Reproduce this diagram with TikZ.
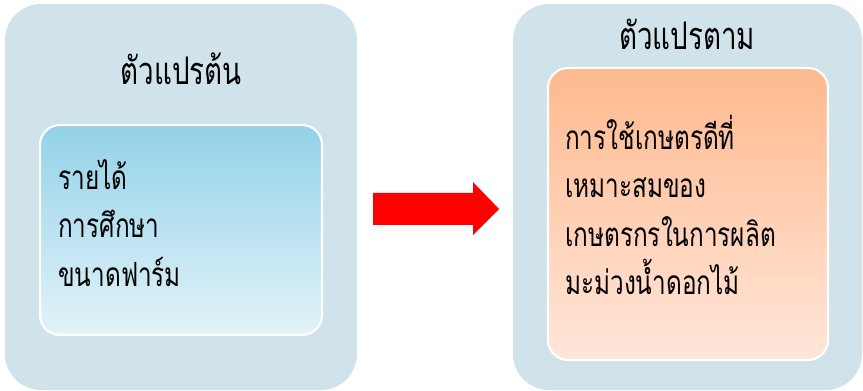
\documentclass[tikz,border=0pt]{standalone}
\usepackage{fontspec}
\newfontfamily\thaifont[Script=Thai,FakeStretch=0.73]{Loma}
\definecolor{panelbg}{HTML}{D0E2EA}
\definecolor{blueTop}{HTML}{93D2E8}
\definecolor{blueBot}{HTML}{E3F3F9}
\definecolor{peachTop}{HTML}{FFB98E}
\definecolor{peachBot}{HTML}{FFE6DA}
\begin{document}
\begin{tikzpicture}[x=0.75pt,y=-0.75pt,
  panel/.style={fill=panelbg, draw=none, rounded corners=27pt},
  innerbox/.style={draw=white, line width=1.6pt, rounded corners=15pt},
  title/.style={font=\thaifont\fontsize{28.5}{32}\selectfont, anchor=base, inner sep=0pt},
  item/.style={font=\thaifont\fontsize{25}{30}\selectfont, anchor=base west, inner sep=0pt}]
\useasboundingbox (0,0) rectangle (863,391);

% independent variables panel
\path[panel] (5,4) rectangle (357,390);
\path[innerbox, top color=blueTop, bottom color=blueBot] (40,125) rectangle (322,335);
\node[title] (indepTitle) at (181,85) {ตัวแปรต้น};
\node[item] (inc) at (58,190) {รายได้};
\node[item] (edu) at (58,238) {การศึกษา};
\node[item] (farm) at (58,287) {ขนาดฟาร์ม};

% dependent variable panel
\path[panel] (513,4) rectangle (862,390);
\path[innerbox, top color=peachTop, bottom color=peachBot] (548,68) rectangle (828,360);
\node[title] (depTitle) at (687,50) {ตัวแปรตาม};
\node[item] (d1) at (565,150) {การใช้เกษตรดีที่};
\node[item] (d2) at (565,198) {เหมาะสมของ};
\node[item] (d3) at (565,247) {เกษตรกรในการผลิต};
\node[item] (d4) at (565,295) {มะม่วงน้ำดอกไม้};

% block arrow between the panels
\fill[red] (373,193) -- (473,193) -- (473,182) -- (499,209) -- (473,235) -- (473,225) -- (373,225) -- cycle;
\end{tikzpicture}
\end{document}
